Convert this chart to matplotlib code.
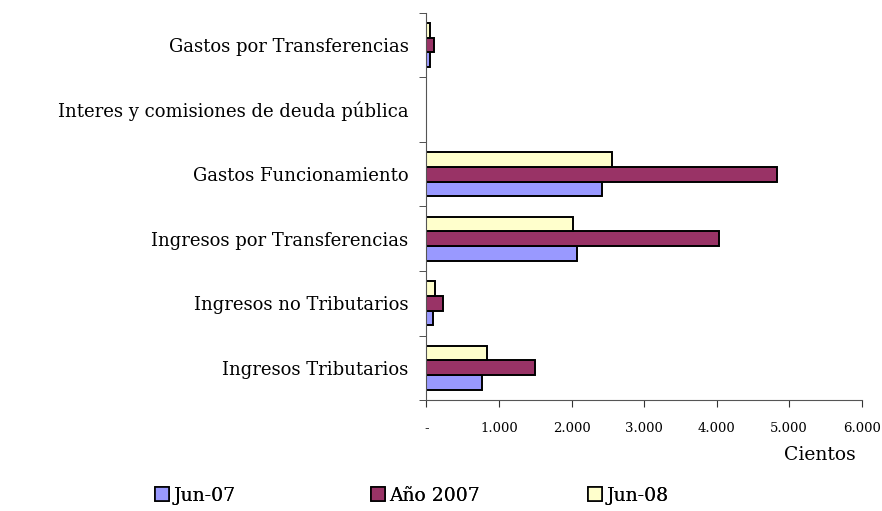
import numpy as np
import matplotlib
matplotlib.use('Agg')
import matplotlib.pyplot as plt
from matplotlib.patches import Patch
from matplotlib.ticker import FixedLocator

#%% Data
categories = [
    'Ingresos Tributarios',
    'Ingresos no Tributarios',
    'Ingresos por Transferencias',
    'Gastos Funcionamiento',
    'Interes y comisiones de deuda pública',
    'Gastos por Transferencias',
]
series_names = ['Jun-07', 'Año 2007', 'Jun-08']
jun07 = [763, 92, 2069, 2422, 0, 46]
anio2007 = [1503, 225, 4036, 4828, 0, 105]
jun08 = [836, 119, 2014, 2556, 0, 55]
xtick_vals = [0, 1000, 2000, 3000, 4000, 5000, 6000]
xtick_labels = ['-', '1.000', '2.000', '3.000', '4.000', '5.000', '6.000']

colors = ['#9999FF', '#993366', '#FFFFCC']

#%% Plot
plt.rcParams['font.family'] = ['DejaVu Serif']
fig = plt.figure(figsize=(8.82, 5.11), dpi=100)
ax = fig.add_axes([0.4835, 0.217, 0.4935, 0.758])

y = np.arange(len(categories))
h = 0.229
for i, (vals, name) in enumerate(zip([jun07, anio2007, jun08], series_names)):
    ax.barh(y + (i - 1) * h, vals, height=h, color=colors[i],
            edgecolor='black', linewidth=1.4, label=name)

ax.set_xlim(0, 6000)
ax.set_ylim(-0.5, len(categories) - 0.5)
ax.set_xticks(xtick_vals)
ax.set_xticklabels(xtick_labels, fontsize=9.5)
ax.set_yticks(y)
ax.set_yticklabels(categories, fontsize=13)
ax.yaxis.set_minor_locator(FixedLocator(np.arange(-0.5, len(categories), 1)))
ax.tick_params(axis='y', which='major', length=0, pad=13)
ax.tick_params(axis='y', which='minor', length=5, color='#333333')
ax.tick_params(axis='x', length=5, pad=11, color='#333333', direction='out')
for s in ['top', 'right']:
    ax.spines[s].set_visible(False)
for s in ['left', 'bottom']:
    ax.spines[s].set_color('#555555')

fig.text(0.970, 0.11, 'Cientos', ha='right', va='center', fontsize=13.5)

# legend entries sit in fixed slots along the bottom
leg_x = [0.176, 0.421, 0.667]
for i, name in enumerate(series_names):
    leg = fig.legend(handles=[Patch(facecolor=colors[i], edgecolor='black', linewidth=1.2, label=name)],
                     loc='center left', bbox_to_anchor=(leg_x[i], 0.03), frameon=False,
                     fontsize=13.5, handlelength=0.75, handleheight=0.75, handletextpad=0.2,
                     borderaxespad=0, borderpad=0)
    fig.add_artist(leg)

fig.savefig('out.png', dpi=100)
